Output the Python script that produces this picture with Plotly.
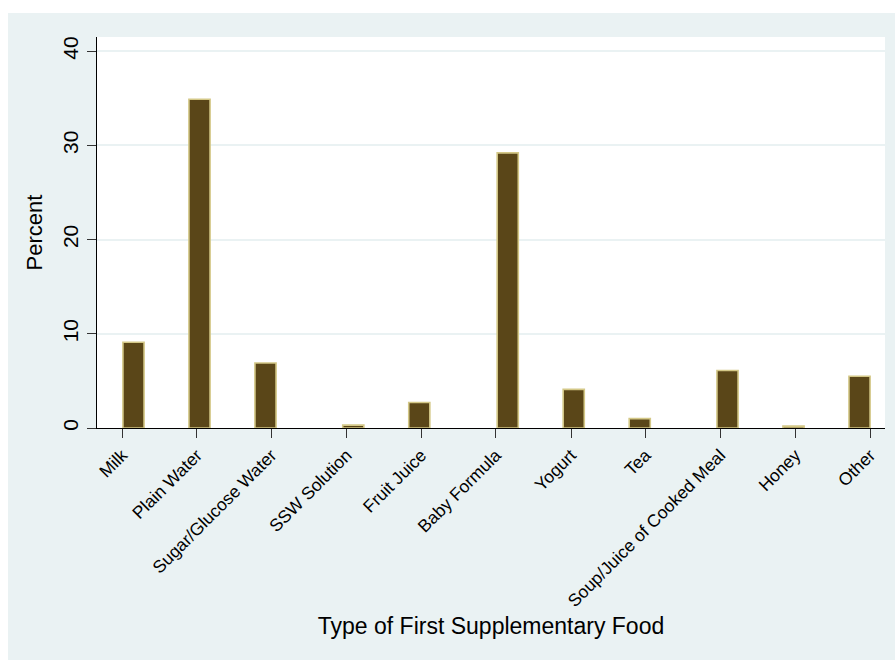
import plotly.graph_objects as go

# Data
categories = ["Milk", "Plain Water", "Sugar/Glucose Water", "SSW Solution", "Fruit Juice",
              "Baby Formula", "Yogurt", "Tea", "Soup/Juice of Cooked Meal", "Honey", "Other"]
percent = [9.1, 34.9, 6.9, 0.3, 2.7, 29.2, 4.1, 1.0, 6.1, 0.2, 5.5]
bar_pos = [1, 2, 3, 4.33, 5.33, 6.67, 7.67, 8.67, 10, 11, 12]
tick_pos = [0.83, 1.96, 3.09, 4.23, 5.36, 6.49, 7.63, 8.76, 9.89, 11.03, 12.16]
y_ticks = [0, 10, 20, 30, 40]

BG = "#EAF2F3"
FONT = "Liberation Sans, Arial, sans-serif"

fig = go.Figure()
fig.add_trace(go.Bar(
    x=bar_pos, y=percent, width=0.32,
    marker=dict(color="#5A4618", line=dict(color="#D4C887", width=1.6)),
    hovertext=categories,
))

fig.update_layout(
    width=895, height=660,
    margin=dict(l=97, r=10, t=37, b=232, autoexpand=False),
    paper_bgcolor=BG, plot_bgcolor="white",
    showlegend=False,
    font=dict(family=FONT, color="black"),
    shapes=[
        dict(type="rect", xref="paper", yref="paper", x0=-0.2, x1=1.2, y0=1.0614, y1=1.3,
             fillcolor="white", line=dict(width=0), layer="below"),
        dict(type="rect", xref="paper", yref="paper", x0=-0.2, x1=-0.1129, y0=-0.7, y1=1.3,
             fillcolor="white", line=dict(width=0), layer="below"),
    ],
)

fig.update_xaxes(
    range=[0.447, 12.386],
    tickmode="array", tickvals=tick_pos, ticktext=categories,
    tickangle=-45, tickfont=dict(size=17.5, family=FONT),
    ticks="outside", ticklen=9, tickwidth=1.3, tickcolor="#333333",
    showline=True, linecolor="black", linewidth=1.3,
    showgrid=False, zeroline=False,
    title=dict(text="Type of First Supplementary Food", font=dict(size=23, family=FONT), standoff=8),
    automargin=False,
)
fig.update_yaxes(
    range=[0, 41.5],
    tickmode="array", tickvals=y_ticks,
    tickangle=-90, tickfont=dict(size=21, family=FONT),
    ticks="outside", ticklen=9, tickwidth=1.3, tickcolor="#333333",
    showline=True, linecolor="black", linewidth=1.3,
    showgrid=True, gridcolor=BG, gridwidth=1.5, zeroline=False,
    title=dict(text="Percent", font=dict(size=22, family=FONT), standoff=10),
    automargin=False,
)

fig.write_html("out.html")
